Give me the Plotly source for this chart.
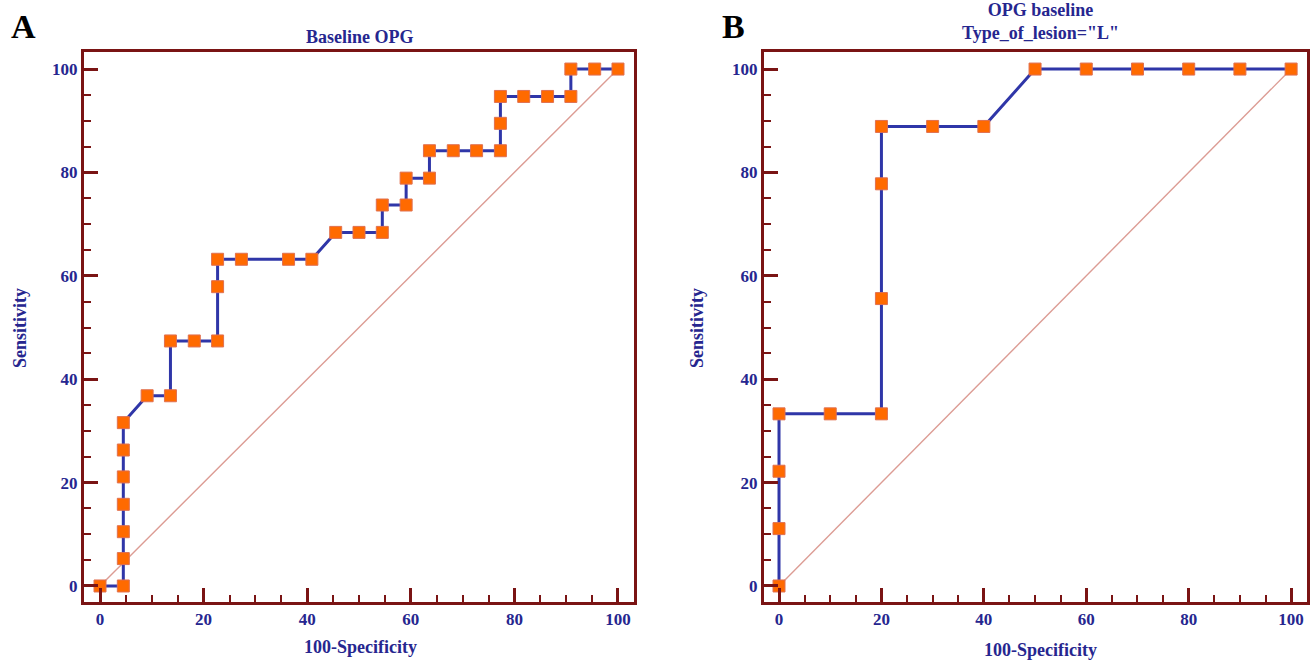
import plotly.graph_objects as go

# ---- Data ----
a_fpr = [0, 4.5, 4.5, 4.5, 4.5, 4.5, 4.5, 4.5, 9.1, 13.6, 13.6, 18.2, 22.7, 22.7, 22.7,
         27.3, 36.4, 40.9, 45.5, 50.0, 54.5, 54.5, 59.1, 59.1, 63.6, 63.6, 68.2, 72.7,
         77.3, 77.3, 77.3, 81.8, 86.4, 90.9, 90.9, 95.5, 100]
a_sens = [0, 0, 5.3, 10.5, 15.8, 21.1, 26.3, 31.6, 36.8, 36.8, 47.4, 47.4, 47.4, 57.9, 63.2,
          63.2, 63.2, 63.2, 68.4, 68.4, 68.4, 73.7, 73.7, 78.9, 78.9, 84.2, 84.2, 84.2,
          84.2, 89.5, 94.7, 94.7, 94.7, 94.7, 100, 100, 100]

b_fpr = [0, 0, 0, 0, 10, 20, 20, 20, 20, 30, 40, 50, 60, 70, 80, 90, 100]
b_sens = [0, 11.1, 22.2, 33.3, 33.3, 33.3, 55.6, 77.8, 88.9, 88.9, 88.9, 100, 100, 100, 100, 100, 100]

diag = [0, 100]
tick_vals = [0, 20, 40, 60, 80, 100]
tick_text = ["0", "20", "40", "60", "80", "100"]

panel_letters = ["A", "B"]
titles = ["Baseline OPG", "OPG baseline<br>Type_of_lesion=\"L\""]
x_title = "100-Specificity"
y_title = "Sensitivity"

# ---- Styles ----
W, H = 1314, 663
NAVY = "#26268f"
MAROON = "#7a1414"
LINE = "#2f36a8"
MARK = "#ff6a00"
FONT = "Liberation Serif"

fig = go.Figure()

def add_roc(x, y, xa, ya):
    fig.add_trace(go.Scatter(x=diag, y=diag, mode="lines", xaxis=xa, yaxis=ya,
                             line=dict(color="#dc9c94", width=1.4), hoverinfo="skip",
                             showlegend=False))
    fig.add_trace(go.Scatter(x=x, y=y, mode="lines+markers", xaxis=xa, yaxis=ya,
                             line=dict(color=LINE, width=3),
                             marker=dict(symbol="square", size=12, color=MARK,
                                         line=dict(color="#e07050", width=1)),
                             showlegend=False))

add_roc(a_fpr, a_sens, "x", "y")
add_roc(b_fpr, b_sens, "x2", "y2")

def px_x(p):
    return p / W

def px_y(p):
    return 1 - p / H

axis_common = dict(
    showgrid=False, zeroline=False, showline=True, linecolor=MAROON, linewidth=3,
    mirror=True, ticks="inside", ticklen=14, tickwidth=3, tickcolor=MAROON,
    tickvals=tick_vals, ticktext=tick_text,
    tickfont=dict(family=FONT, size=17, color=NAVY, weight="bold"),
    minor=dict(ticks="inside", ticklen=7, tickwidth=2, tickcolor=MAROON, dtick=5,
               tick0=0, showgrid=False),
)

ydom = [px_y(602), px_y(52)]
fig.update_layout(
    width=W, height=H,
    margin=dict(l=0, r=0, t=0, b=0),
    paper_bgcolor="white", plot_bgcolor="white",
    xaxis=dict(domain=[px_x(84), px_x(634)], range=[-3.09, 103.09], anchor="y", **axis_common),
    yaxis=dict(domain=ydom, range=[-3.1, 103.3], anchor="x", **axis_common),
    xaxis2=dict(domain=[px_x(764), px_x(1307)], range=[-2.93, 103.1], anchor="y2", **axis_common),
    yaxis2=dict(domain=ydom, range=[-3.1, 103.3], anchor="x2", **axis_common),
)

ann = []
ann.append(dict(text="<b>" + panel_letters[0] + "</b>", x=px_x(9), y=px_y(27),
                xanchor="left", yanchor="middle"))
ann.append(dict(text="<b>" + panel_letters[1] + "</b>", x=px_x(720), y=px_y(27),
                xanchor="left", yanchor="middle"))
for a in ann:
    a.update(xref="paper", yref="paper", showarrow=False,
             font=dict(family=FONT, size=34, color="black"))

text_font = dict(family=FONT, size=18, color=NAVY, weight="bold")
more = [
    dict(text=titles[0], x=px_x(360), y=px_y(37)),
    dict(text=titles[1], x=px_x(1040), y=px_y(22)),
    dict(text=x_title, x=px_x(360), y=px_y(647)),
    dict(text=x_title, x=px_x(1040), y=px_y(650)),
    dict(text=y_title, x=px_x(20), y=px_y(328), textangle=-90),
    dict(text=y_title, x=px_x(697), y=px_y(328), textangle=-90),
]
for a in more:
    a.update(xref="paper", yref="paper", showarrow=False, xanchor="center",
             yanchor="middle", font=text_font)
    ann.append(a)

fig.update_layout(annotations=ann)

fig.write_html("out.html", config={"displayModeBar": False},
               post_script="document.body.style.margin='0px';document.body.style.padding='0px';")
